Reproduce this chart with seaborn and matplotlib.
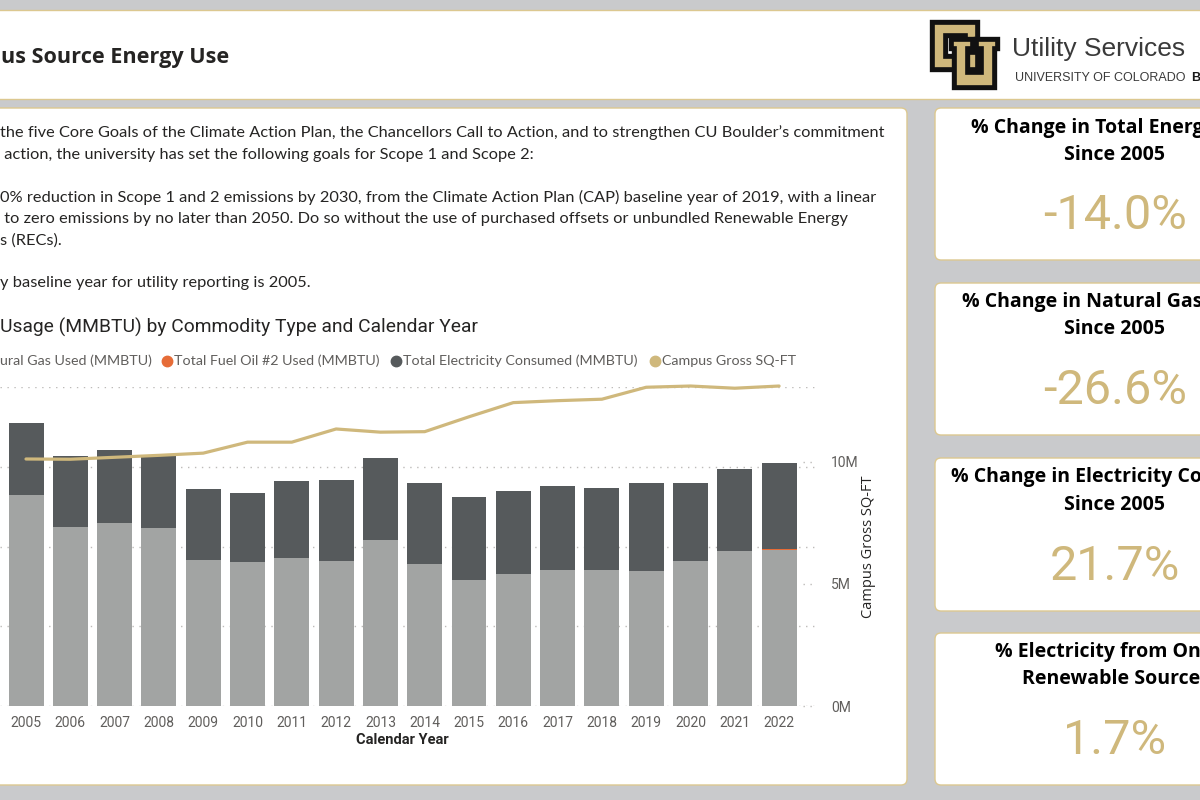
import matplotlib
matplotlib.use("Agg")
import matplotlib.pyplot as plt
from matplotlib.patches import FancyBboxPatch, Polygon
from matplotlib.lines import Line2D
from matplotlib.transforms import Affine2D
import numpy as np
import pandas as pd
import seaborn as sns

# ---- data ----
YEARS = [str(y) for y in range(2005, 2023)]
# million MMBTU
GAS = [2.65, 2.24, 2.30, 2.23, 1.83, 1.80, 1.85, 1.82, 2.08,
       1.78, 1.58, 1.65, 1.71, 1.70, 1.69, 1.82, 1.94, 1.95]
OIL = [0, 0, 0, 0, 0, 0, 0, 0, 0, 0, 0, 0, 0, 0, 0, 0, 0, 0.017]
ELEC = [0.895, 0.90, 0.91, 0.92, 0.89, 0.87, 0.97, 1.01, 1.03,
        1.02, 1.04, 1.04, 1.05, 1.03, 1.11, 0.98, 1.03, 1.083]
# campus gross square feet, millions
SQFT = [10.12, 10.11, 10.19, 10.27, 10.36, 10.81, 10.81, 11.35, 11.22,
        11.24, 11.85, 12.43, 12.51, 12.57, 13.06, 13.11, 13.02, 13.11]
SQFT_TICKS = [0, 5, 10]
SQFT_LABELS = ["0M", "5M", "10M"]

LEGEND = ["ural Gas Used (MMBTU)", "Total Fuel Oil #2 Used (MMBTU)",
          "Total Electricity Consumed (MMBTU)", "Campus Gross SQ-FT"]
PARAGRAPH = [
    "the five Core Goals of the Climate Action Plan, the Chancellors Call to Action, and to strengthen CU Boulder\u2019s commitment",
    " action, the university has set the following goals for Scope 1 and Scope 2:",
    "0% reduction in Scope 1 and 2 emissions by 2030, from the Climate Action Plan (CAP) baseline year of 2019, with a linear",
    " to zero emissions by no later than 2050. Do so without the use of purchased offsets or unbundled Renewable Energy",
    "s (RECs).",
    "y baseline year for utility reporting is 2005.",
]
CARD_TITLES = [["% Change in Total Energ", "Since 2005"],
               ["% Change in Natural Gas", "Since 2005"],
               ["% Change in Electricity Co", "Since 2005"],
               ["% Electricity from On", "Renewable Sources"]]
CARD_VALUES = ["-14.0%", "-26.6%", "21.7%", "1.7%"]

BG = "#c9cacc"
GOLD = "#cfb87c"
EDGE = "#dcc890"
C_GAS = "#a2a4a3"
C_OIL = "#e66c37"
C_ELEC = "#565a5c"
DARK = "#252423"
GREY_TXT = "#605e5c"

sns.set_theme(style="white")
plt.rcParams["font.family"] = ["Roboto", "DejaVu Sans"]

fig = plt.figure(figsize=(12, 8), dpi=100, facecolor=BG)
PX = Affine2D().scale(1 / 100) + fig.dpi_scale_trans  # pixel coords, y up


def box(x0, y0, x1, y1, r=0):
    style = f"round,pad=0,rounding_size={r}" if r else "square,pad=0"
    fig.add_artist(FancyBboxPatch((x0, 800 - y1), x1 - x0, y1 - y0,
                                  boxstyle=style, transform=PX, fc="white",
                                  ec=EDGE, lw=1.0, zorder=-1))


def txt(x, y, s, **kw):
    kw.setdefault("va", "center")
    return fig.text(x, 800 - y, s, transform=PX, **kw)


def glyph(pts):
    xy = [(x, 800 - y) for x, y in pts]
    fig.add_artist(Polygon(xy, closed=True, transform=PX, fc="none",
                           ec="#111111", lw=6, joinstyle="miter"))
    fig.add_artist(Polygon(xy, closed=True, transform=PX, fc=GOLD,
                           ec="#111111", lw=1.2, joinstyle="miter"))


# panels
box(-10, 9.5, 1210, 99)
box(-10, 108, 907, 785, r=6)
for y0, y1 in [(108, 260), (283, 435), (458, 611), (633, 785)]:
    box(935, y0, 1215, y1, r=6)

# header
txt(1, 57, "us Source Energy Use", fontsize=15.6, fontweight="bold",
    color=DARK, family=["Open Sans", "DejaVu Sans"])
# CU logo (blocky interlocked C and U)
glyph([(934, 24), (976, 24), (976, 40), (967, 40), (967, 34), (944, 34),
       (944, 58), (967, 58), (967, 54), (976, 54), (976, 68), (934, 68)])
glyph([(953, 41), (971, 41), (971, 47), (966, 47), (966, 74), (983, 74),
       (983, 47), (978, 47), (978, 41), (996, 41), (996, 47), (993, 47),
       (993, 86), (956, 86), (956, 47), (953, 47)])
txt(1012, 49, "Utility Services", fontsize=19, color="#3a3a3a",
    family=["Liberation Sans", "DejaVu Sans"])
txt(1015, 78, "UNIVERSITY OF COLORADO", fontsize=9.0, color="#3a3a3a",
    family=["Liberation Sans", "DejaVu Sans"])
txt(1191, 78, "B", fontsize=9.0, color="#1a1a1a", fontweight="bold",
    family=["Liberation Sans", "DejaVu Sans"])

# paragraph
for s, y in zip(PARAGRAPH, [133, 155, 197, 219, 241, 283]):
    txt(0, y, s, fontsize=11.75, color=DARK, family=["Lato", "DejaVu Sans"])

# chart title + legend
txt(0, 327, "Usage (MMBTU) by Commodity Type and Calendar Year",
    fontsize=13.9, color=DARK)
for s, x, c in zip(LEGEND, [0, 174, 403, 662], [None, C_OIL, C_ELEC, GOLD]):
    txt(x, 361, s, fontsize=10.3, color=GREY_TXT, family=["Lato", "DejaVu Sans"])
    if c:
        fig.add_artist(Line2D([x - 7], [800 - 361], marker="o", ms=7.5,
                              color=c, lw=0, transform=PX))

# ---- chart ----
ax = fig.add_axes([0, (800 - 706) / 800, 816 / 1200, (706 - 387) / 800])
ax.patch.set_alpha(0)
df = pd.DataFrame({"year": YEARS, "gas": GAS, "oil": OIL, "elec": ELEC})
df["gas_oil"] = df["gas"] + df["oil"]
df["total"] = df["gas_oil"] + df["elec"]
for col, c in [("total", C_ELEC), ("gas_oil", C_OIL), ("gas", C_GAS)]:
    sns.barplot(data=df, x="year", y=col, color=c, saturation=1, width=0.79,
                linewidth=0, ax=ax, zorder=2)
ax.set_ylim(0, 4)
ax.set_yticks([0, 1, 2, 3, 4])
ax.yaxis.grid(True, ls=(0, (1, 4)), color="#bdbbb9", lw=1)
ax.set_axisbelow(True)
ax.tick_params(axis="y", length=0, labelleft=False)
ax.tick_params(axis="x", length=0, pad=7, labelsize=10, labelcolor=GREY_TXT)
ax.set_ylabel("")
ax.set_xlabel("Calendar Year", fontsize=10.5, fontweight="bold", color=DARK)
ax.xaxis.set_label_coords(402 / 816, -(740 - 706) / 319)
ax.xaxis.label.set_va("center")
for s in ax.spines.values():
    s.set_visible(False)

ax2 = ax.twinx()
ax2.patch.set_alpha(0)
sns.lineplot(x=np.arange(len(YEARS)), y=SQFT, ax=ax2, color=GOLD, lw=2.3,
             clip_on=False, zorder=3)
ax2.set_ylim(0, 13.07)
ax2.set_yticks(SQFT_TICKS, SQFT_LABELS)
ax2.tick_params(axis="y", length=0, pad=11, labelsize=10, labelcolor=GREY_TXT)
ax2.hlines(SQFT_TICKS, 17.55, 17.84, colors="#bdbbb9", linestyles=(0, (1, 4)),
           lw=1, clip_on=False)
ax2.set_ylabel("Campus Gross SQ-FT", fontsize=10.5, color=DARK,
               family=["Open Sans", "DejaVu Sans"])
ax2.yaxis.set_label_coords(868 / 816, (706 - 547) / 319)
ax2.yaxis.label.set_va("center")
for s in ax2.spines.values():
    s.set_visible(False)
ax.set_xlim(-0.587, 17.833)

# ---- KPI cards ----
title_y = [(128, 155), (302, 329), (477, 505), (652, 679)]
title_x = [971, 962, 951, 995]
value_y = [216, 391, 567, 741]
for (t1, t2), (y1, y2), x1, v, vy in zip(CARD_TITLES, title_y, title_x,
                                         CARD_VALUES, value_y):
    bold = dict(fontsize=14, fontweight="bold", color="black",
                family=["Open Sans", "DejaVu Sans"])
    txt(x1, y1, t1, **bold)
    if t2.startswith("Since"):
        txt(1115, y2, t2, ha="center", **bold)
    else:
        txt(1022, y2, t2, **bold)
    txt(1115, vy, v, ha="center", fontsize=35, color=GOLD)

fig.savefig("out.png", dpi=100, facecolor=BG)
